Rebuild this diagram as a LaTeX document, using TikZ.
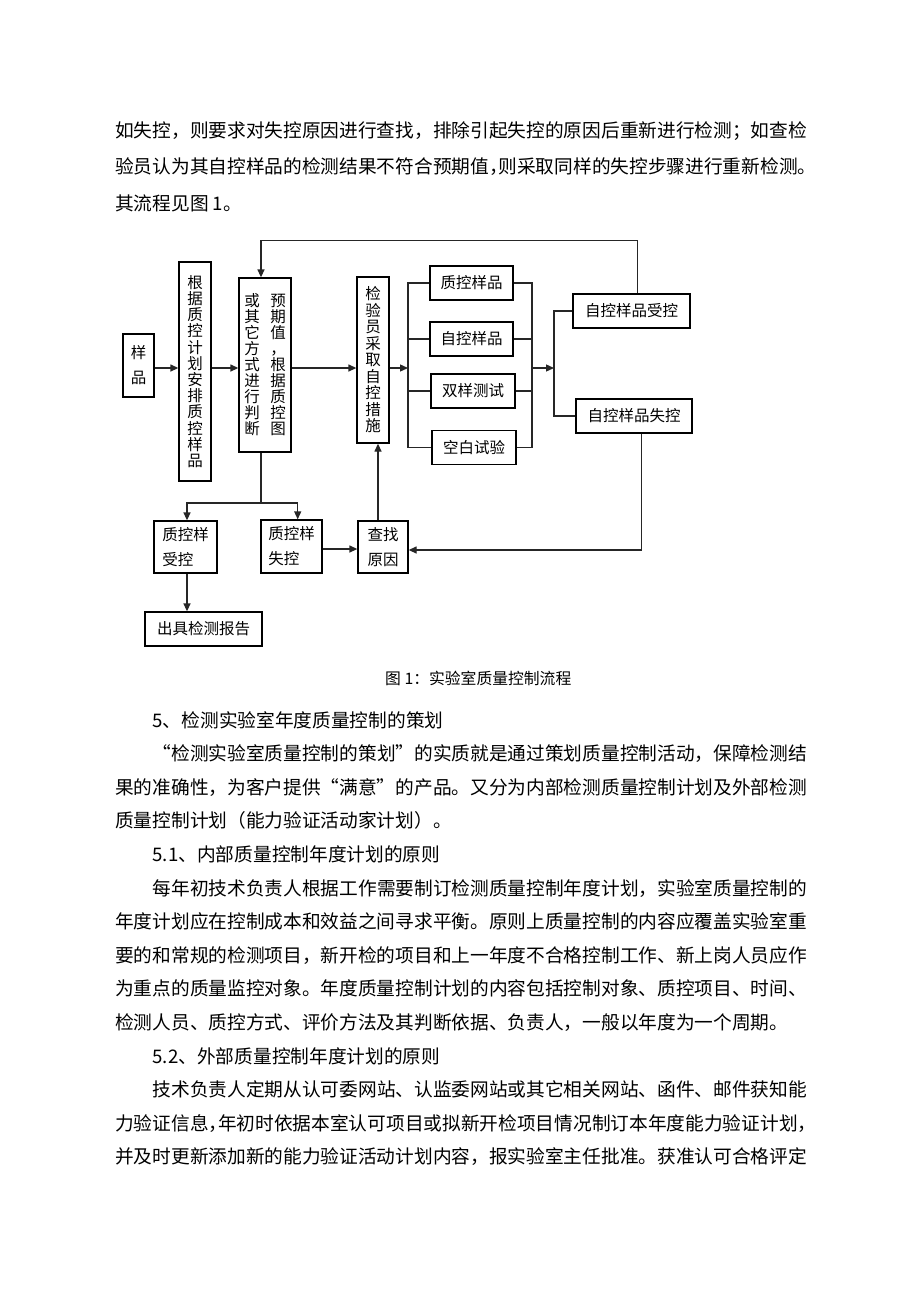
\documentclass[tikz,border=0pt]{standalone}
\usepackage{fontspec}
\setmainfont{Noto Sans CJK SC}
\usetikzlibrary{arrows.meta}
\newcommand\colstack[2][16pt]{\vbox{\baselineskip=#1\relax\lineskiplimit=-50pt\lineskip=0pt\halign{\hfil##\hfil\cr#2\crcr}}}
\newcommand\hc{\makebox[0.5em][l]{，}}
\newcommand\oq{\makebox[1em][r]{“}}
\newcommand\cq{\makebox[1em][l]{”}}
\newcommand\bodyfont{\fontsize{18.7pt}{22pt}\selectfont}
\newcommand\dfont{\fontsize{15.5pt}{25pt}\selectfont}
\begin{document}
\begin{tikzpicture}[x=1pt,y=-1pt,
  box/.style={draw=black, line width=1.3pt, inner sep=0pt, font=\dfont, align=center},
  lbox/.style={box, align=left},
  conn/.style={line width=1.3pt, draw=black!85},
  arr/.style={conn, -{Triangle[length=8pt,width=7pt]}},
  body/.style={anchor=base west, inner sep=0pt, font=\bodyfont},
  captext/.style={anchor=west, inner sep=0pt, font=\fontsize{15.8pt}{18pt}\selectfont}]
\fill[white] (0,0) rectangle (920,1302);
\useasboundingbox (0,0) rectangle (920,1302);

% ---------- text above ----------
\node[body] (t1) at (115,137) {如失控，则要求对失控原因进行查找，排除引起失控的原因后重新进行检测；如查检};
\node[body] (t2) at (115,173.5) {验员认为其自控样品的检测结果不符合预期值\hc 则采取同样的失控步骤进行重新检测\makebox[0.5em][l]{。}};
\node[body] (t3) at (115,210) {其流程见图 1。};

% ---------- diagram nodes ----------
\node[box, minimum width=31pt, minimum height=63pt] (yp) at (138.5,365.5) {\colstack[25pt]{样\cr 品\cr}};
\node[box, minimum width=32pt, minimum height=219pt] (plan) at (195,371.5)
  {\colstack[16.2pt]{根\cr 据\cr 质\cr 控\cr 计\cr 划\cr 安\cr 排\cr 质\cr 控\cr 样\cr 品\cr}};
\node[box, minimum width=52pt, minimum height=174pt] (judge) at (265,365)
  {\colstack[16pt]{或\cr 其\cr 它\cr 方\cr 式\cr 进\cr 行\cr 判\cr 断\cr}\hspace{10.5pt}\colstack[16pt]{预\cr 期\cr 值\cr ，\cr 根\cr 据\cr 质\cr 控\cr 图\cr}};
\node[box, minimum width=32pt, minimum height=166pt] (ins) at (373,360)
  {\colstack[16.5pt]{检\cr 验\cr 员\cr 采\cr 取\cr 自\cr 控\cr 措\cr 施\cr}};
\node[box, minimum width=83pt, minimum height=34pt] (s1) at (471.5,283) {质控样品};
\node[box, minimum width=83pt, minimum height=34pt] (s2) at (471.5,339) {自控样品};
\node[box, minimum width=84pt, minimum height=34pt] (s3) at (473,391) {双样测试};
\node[box, minimum width=84pt, minimum height=34pt] (s4) at (474,447.5) {空白试验};
\node[box, minimum width=117pt, minimum height=34pt] (ok) at (631.5,311) {自控样品受控};
\node[box, minimum width=116pt, minimum height=34pt] (bad) at (634,416) {自控样品失控};
\node[lbox, minimum width=63pt, minimum height=52pt] (qok) at (185.5,547) {质控样\\受控};
\node[lbox, minimum width=61pt, minimum height=53pt] (qbad) at (291.5,546.5) {质控样\\失控};
\node[lbox, minimum width=50pt, minimum height=52pt] (find) at (383,547) {查找\\原因};
\node[box, minimum width=117pt, minimum height=34pt] (report) at (203.5,629) {出具检测报告};

% ---------- helper coordinates ----------
\coordinate (m) at (0,368);
\coordinate (bl) at (408,368);
\coordinate (br) at (532,368);
\coordinate (bl2) at (554,368);
\coordinate (t1c) at (637.7,240.7);
\coordinate (t2c) at (261,240.7);
\coordinate (r1) at (641.7,550);
\coordinate (fx) at (378,0);
\coordinate (j1) at (261,503);
\coordinate (jl) at (187,503);
\coordinate (jr) at (297.7,503);
\coordinate (qy) at (0,549);

% ---------- connectors ----------
\draw[arr] (yp.east |- m) -- (plan.west |- m);
\draw[arr] (plan.east |- m) -- (judge.west |- m);
\draw[arr] (judge.east |- m) -- (ins.west |- m);
\draw[arr] (ins.east |- m) -- (bl);
\draw[conn] (s1.west) -| (bl);
\draw[conn] (s4.west) -| (bl);
\draw[conn] (s2.west) -- (s2.west -| bl);
\draw[conn] (s3.west) -- (s3.west -| bl);
\draw[conn] (s1.east) -| (br);
\draw[conn] (s4.east) -| (br);
\draw[conn] (s2.east) -- (s2.east -| br);
\draw[conn] (s3.east) -- (s3.east -| br);
\draw[arr] (br) -- (bl2);
\draw[conn] (ok.west) -| (bl2);
\draw[conn] (bad.west) -| (bl2);
\draw[arr] (ok.north -| t1c) -- (t1c) -- (t2c) -- (judge.north -| t2c);
\draw[arr] (bad.south -| r1) -- (r1) -- (find.east |- r1);
\draw[arr] (find.north -| fx) -- (ins.south -| fx);
\draw[conn] (judge.south -| j1) -- (j1);
\draw[arr] (j1) -- (jl) -- (qok.north -| jl);
\draw[arr] (j1) -- (jr) -- (qbad.north -| jr);
\draw[arr] (qbad.east |- qy) -- (find.west |- qy);
\draw[arr] (qok.south -| jl) -- (report.north -| jl);

\node[captext] (caption) at (385,678) {图 1：实验室质量控制流程};

% ---------- text below ----------
\node[body] (p1) at (152.4,727) {5、检测实验室年度质量控制的策划};
\node[body] (p2) at (152.4,760.6) {\oq 检测实验室质量控制的策划\cq 的实质就是通过策划质量控制活动，保障检测结};
\node[body] (p3) at (115,794.2) {果的准确性，为客户提供\oq 满意\cq 的产品。又分为内部检测质量控制计划及外部检测};
\node[body] (p4) at (115,827.8) {质量控制计划（能力验证活动家计划）。};
\node[body] (p5) at (152.4,861.4) {5.1、内部质量控制年度计划的原则};
\node[body] (p6) at (152.4,895) {每年初技术负责人根据工作需要制订检测质量控制年度计划，实验室质量控制的};
\node[body] (p7) at (115,928.6) {年度计划应在控制成本和效益之间寻求平衡。原则上质量控制的内容应覆盖实验室重};
\node[body] (p8) at (115,962.2) {要的和常规的检测项目，新开检的项目和上一年度不合格控制工作、新上岗人员应作};
\node[body] (p9) at (115,995.8) {为重点的质量监控对象。年度质量控制计划的内容包括控制对象、质控项目、时间、};
\node[body] (p10) at (115,1029.4) {检测人员、质控方式、评价方法及其判断依据、负责人，一般以年度为一个周期。};
\node[body] (p11) at (152.4,1063) {5.2、外部质量控制年度计划的原则};
\node[body] (p12) at (152.4,1096.6) {技术负责人定期从认可委网站、认监委网站或其它相关网站、函件、邮件获知能};
\node[body] (p13) at (115,1130.2) {力验证信息\hc 年初时依据本室认可项目或拟新开检项目情况制订本年度能力验证计划\makebox[0.5em][l]{，}};
\node[body] (p14) at (115,1163.8) {并及时更新添加新的能力验证活动计划内容，报实验室主任批准。获准认可合格评定};
\end{tikzpicture}
\end{document}
